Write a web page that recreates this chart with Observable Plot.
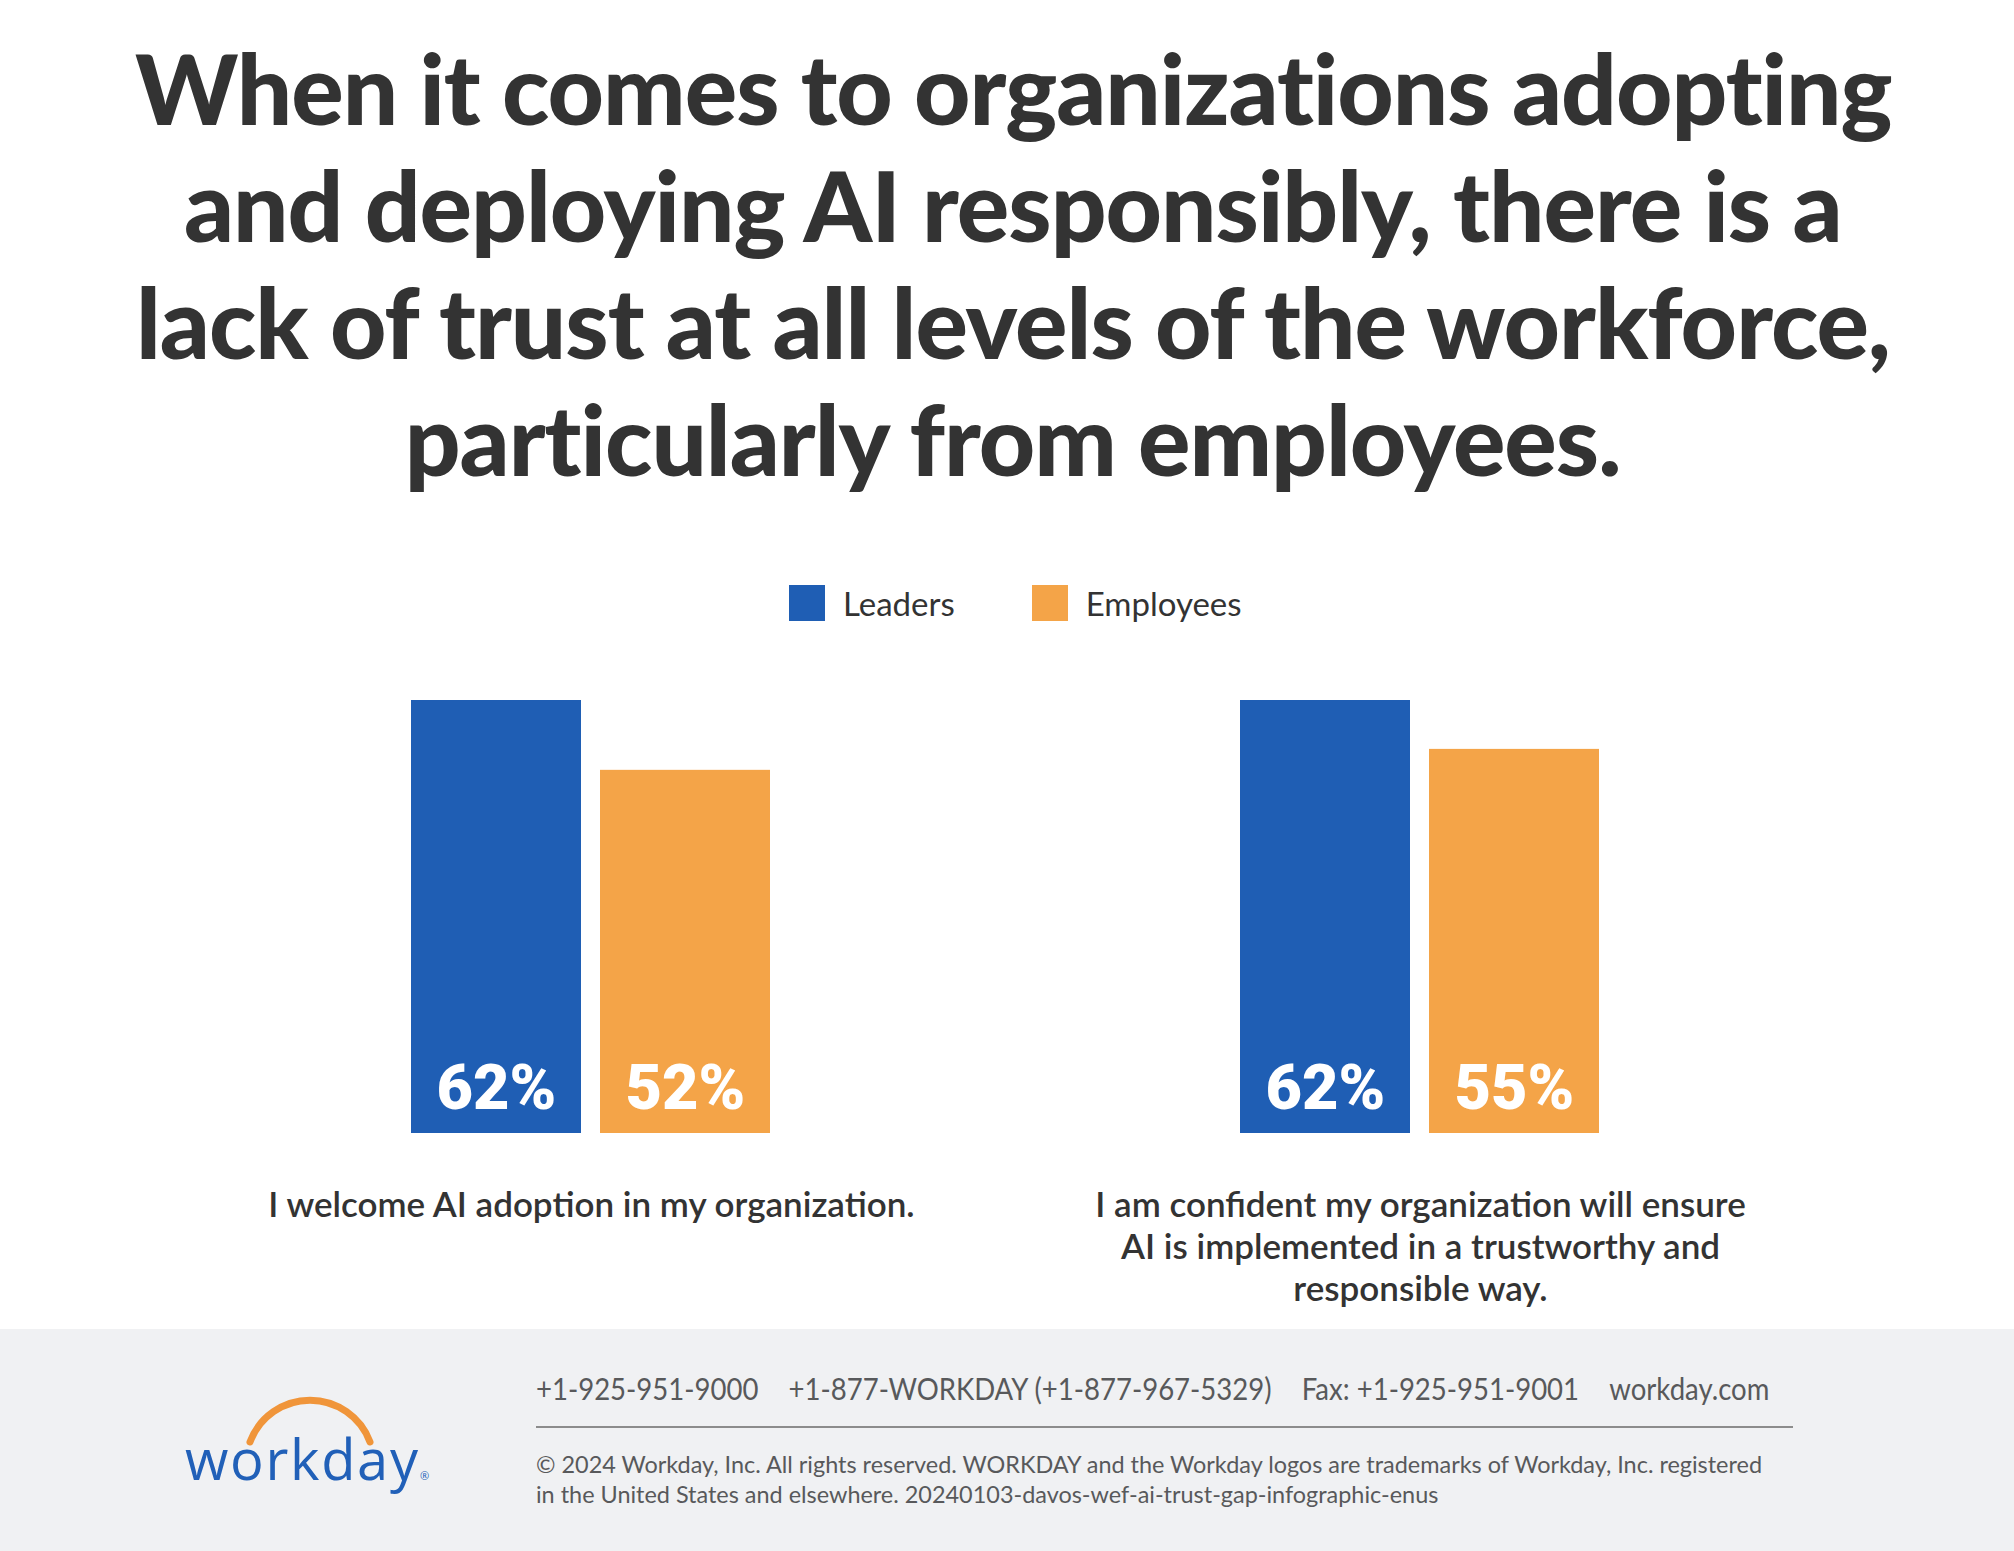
<!DOCTYPE html>
<html>
<head>
<meta charset="utf-8">
<script src="https://cdn.jsdelivr.net/npm/d3@7"></script>
<script src="https://cdn.jsdelivr.net/npm/@observablehq/plot@0.6"></script>
<style>
  html, body { margin: 0; padding: 0; background: #fff; }
  body { width: 2014px; height: 1551px; position: relative; overflow: hidden; font-family: Lato, "Open Sans", sans-serif; color: #333; }
  #title { position: absolute; left: 6px; top: 29px; width: 2014px; text-align: center; color: #333;
           font-family: Lato, sans-serif; font-weight: 900; font-size: 98px; line-height: 117px; letter-spacing: -1px; }
  #title div { white-space: nowrap; }
  #title span { display: inline-block; transform-origin: 50% 50%; }
  #legend { position: absolute; left: 789px; top: 585px; }
  body .lg-swatches-wrap { display: flex; align-items: center; margin: 0; font-family: Lato, sans-serif;
                           font-size: 33px; line-height: 36px; color: #333; min-height: 36px; }
  body .lg-swatch { margin-right: 77px; }
  body .lg-swatch:last-child { margin-right: 0; }
  body .lg-swatch > svg { margin-right: 18px; }
  #chart { position: absolute; left: 0; top: 650px; }
  #footer { position: absolute; left: 0; top: 1329px; width: 2014px; height: 222px; background: #f0f1f3; }
  #logo { position: absolute; left: 170px; top: 51px; }
  #contact { position: absolute; left: 536px; top: 41px; font-size: 31px; line-height: 36px; color: #58595b; white-space: nowrap; }
  #contact span { margin-right: 34px; }
  #contact span:last-child { margin-right: 0; }
  #rule { position: absolute; left: 536px; top: 97px; width: 1257px; height: 2px; background: #8c8c8c; }
  #legal { position: absolute; left: 536px; top: 120px; font-size: 24px; line-height: 30px; color: #58595b; white-space: nowrap; }
  .squeeze { display: inline-block; transform-origin: 0 50%; }
</style>
</head>
<body>
<div id="title">
  <div><span>When it comes to organizations adopting</span></div>
  <div><span>and deploying AI responsibly, there is a</span></div>
  <div><span>lack of trust at all levels of the workforce,</span></div>
  <div><span>particularly from employees.</span></div>
</div>
<div id="legend"></div>
<div id="chart"></div>
<div id="footer">
  <svg id="logo" width="280" height="140" viewBox="0 0 280 140">
    <path d="M80,62 A64,64 0 0,1 200,62" fill="none" stroke="#f0953a" stroke-width="7" stroke-linecap="round"></path>
    <text x="15" y="100" font-family="'Open Sans', sans-serif" font-size="56" fill="#2160b8" textLength="233" lengthAdjust="spacing">workday</text>
    <text x="250" y="100" font-family="'Open Sans', sans-serif" font-size="11" fill="#2160b8">®</text>
  </svg>
  <div id="contact"><div class="squeeze" id="contactLine"><span>+1-925-951-9000</span><span>+1-877-WORKDAY (+1-877-967-5329)</span><span>Fax: +1-925-951-9001</span><span>workday.com</span></div></div>
  <div id="rule"></div>
  <div id="legal"><div class="squeeze" id="legalText"><div>© 2024 Workday, Inc. All rights reserved. WORKDAY and the Workday logos are trademarks of Workday, Inc. registered</div><div>in the United States and elsewhere. 20240103-davos-wef-ai-trust-gap-infographic-enus</div></div></div>
</div>
<script>
// Survey statements (line breaks as set under each pair of bars)
const questions = [
  "I welcome AI adoption in my organization.",
  "I am confident my organization will ensure\nAI is implemented in a trustworthy and\nresponsible way."
];
const groups = ["Leaders", "Employees"];
const leaders = [62, 62];     // % agreeing, leaders
const employees = [52, 55];   // % agreeing, employees
const palette = ["#1f5eb4", "#f4a448"];

const rows = questions.flatMap((q, i) => [
  {question: q, group: groups[0], value: leaders[i]},
  {question: q, group: groups[1], value: employees[i]}
]);

const chart = Plot.plot({
  width: 2014,
  height: 679,
  marginTop: 50,
  marginBottom: 196,
  marginLeft: 411,
  marginRight: 414,
  style: {background: "transparent", fontFamily: "Lato, sans-serif", overflow: "visible"},
  fx: {domain: questions, axis: null, paddingInner: 0.566, paddingOuter: 0},
  x: {domain: groups, axis: null, paddingInner: 0.1, paddingOuter: 0},
  y: {domain: [0, 62], axis: null},
  color: {domain: groups, range: palette},
  marks: [
    Plot.barY(rows, {fx: "question", x: "group", y: "value", fill: "group"}),
    Plot.text(rows, {
      fx: "question", x: "group", frameAnchor: "bottom", lineAnchor: "bottom", dy: -25,
      text: d => `${d.value}%`, fill: "white", fontSize: 63, fontWeight: 900, fontFamily: "Roboto"
    }),
    Plot.text(questions, {
      fx: d => d, frameAnchor: "bottom", lineAnchor: "top", dy: 54,
      text: d => d, fill: "#333", fontSize: 35, fontWeight: 600, lineHeight: 1.2, fontFamily: "Lato"
    })
  ]
});
document.getElementById("chart").append(chart);
document.getElementById("legend").append(chart.legend("color", {swatchSize: 36, className: "lg"}));

// Condensed lettering: compress text horizontally to the set widths
function squeezeHtml(els, refEl, target) {
  const f = target / refEl.offsetWidth;
  els.forEach(el => el.style.transform = `scaleX(${f})`);
}
function squeezeSvgLabels() {
  const texts = [...chart.querySelectorAll('g[aria-label="text"][font-size="35"] text')];
  const ref = texts.find(t => t.textContent.startsWith("I welcome"));
  if (!ref) return;
  const f = 645 / ref.getBBox().width;
  texts.forEach(t => {
    const base = t.dataset.base ?? (t.getAttribute("transform") || "");
    t.dataset.base = base;
    const bb = t.getBBox();
    const cx = bb.x + bb.width / 2;
    t.setAttribute("transform", `${base} translate(${cx},0) scale(${f},1) translate(${-cx},0)`);
  });
}
function layout() {
  const spans = [...document.querySelectorAll("#title span")];
  squeezeHtml(spans, spans[0], 1757);
  const c = document.getElementById("contactLine");
  squeezeHtml([c], c, 1233);
  const l = document.getElementById("legalText");
  squeezeHtml([l], l, 1226);
  squeezeSvgLabels();
}
layout();
document.fonts.ready.then(layout);
</script>
</body>
</html>
